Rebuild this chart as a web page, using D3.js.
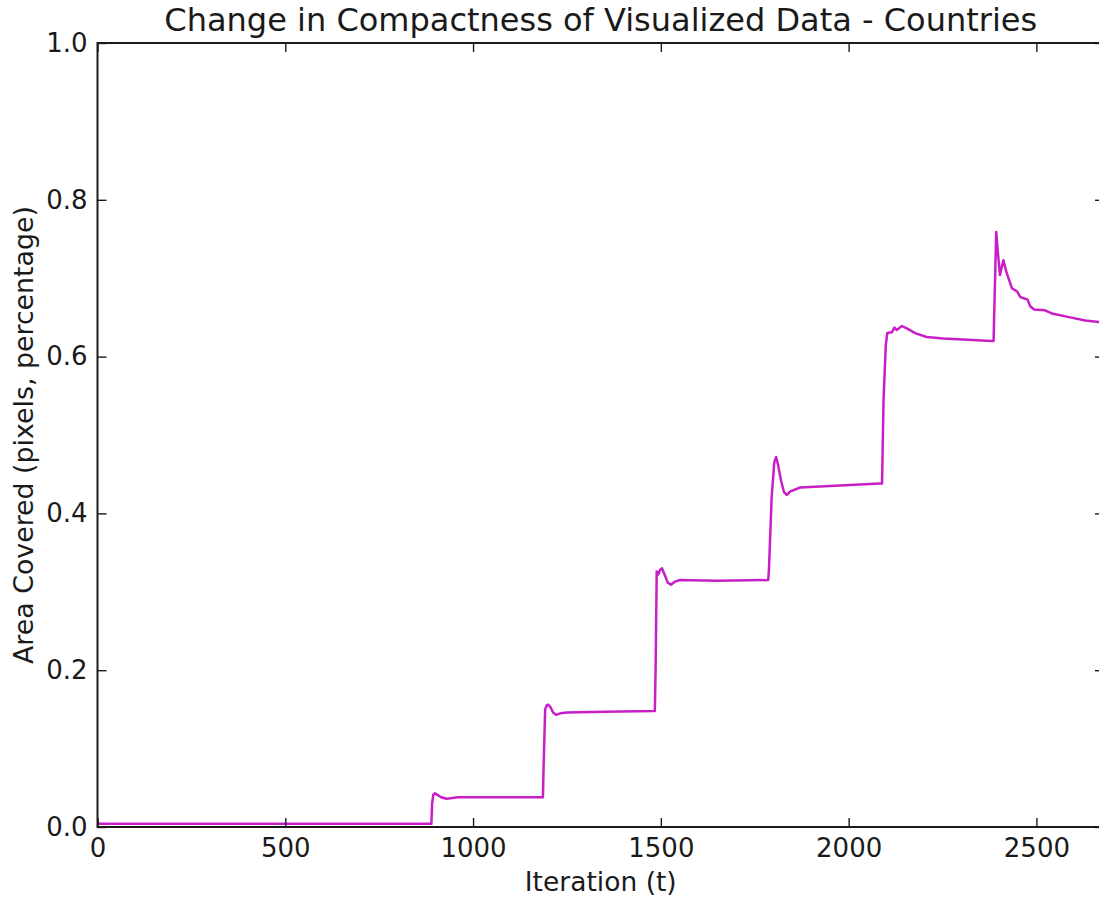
<!DOCTYPE html>
<html>
<head>
<meta charset="utf-8">
<script src="https://cdn.jsdelivr.net/npm/d3@7"></script>
<style>
  html, body { margin: 0; padding: 0; background: #fff; overflow: hidden; }
  svg { display: block; }
  text { font-family: "DejaVu Sans", sans-serif; fill: #1a1a1a; }
</style>
</head>
<body>
<svg id="chart" width="1099" height="897"></svg>
<script>
// Iteration number and fraction of area covered at that iteration
const iterations = [
  0, 6, 20, 400, 889, 891, 894, 898, 905, 915, 930, 960, 1100, 1186,
  1188, 1192, 1196, 1200, 1206, 1213, 1221, 1232, 1250, 1350, 1484,
  1486, 1489, 1493, 1498, 1503, 1510, 1518, 1527, 1538, 1551, 1650, 1786,
  1788, 1795, 1802, 1807, 1812, 1820, 1828, 1835, 1845, 1871, 1950, 2084,
  2089, 2093, 2099, 2103, 2115, 2122, 2128, 2142, 2155, 2177, 2208, 2252, 2381,
  2386, 2390, 2393, 2397, 2403, 2412, 2420, 2435, 2449, 2457, 2468, 2476,
  2484, 2494, 2523, 2541, 2590, 2630, 2667, 2680
];
const areaCovered = [
  0.006, 0.004, 0.004, 0.004, 0.004, 0.030, 0.041, 0.043, 0.041, 0.038, 0.036, 0.038, 0.038, 0.038,
  0.080, 0.150, 0.155, 0.156, 0.153, 0.146, 0.143, 0.145, 0.146, 0.147, 0.148,
  0.200, 0.326, 0.322, 0.328, 0.330, 0.322, 0.312, 0.309, 0.313, 0.315, 0.314, 0.315,
  0.330, 0.420, 0.465, 0.472, 0.462, 0.442, 0.427, 0.4235, 0.428, 0.433, 0.435, 0.438,
  0.438, 0.545, 0.615, 0.630, 0.631, 0.637, 0.634, 0.639, 0.636, 0.630, 0.625, 0.623, 0.620,
  0.620, 0.700, 0.759, 0.735, 0.704, 0.723, 0.708, 0.687, 0.683, 0.676, 0.674, 0.673,
  0.664, 0.660, 0.659, 0.655, 0.650, 0.646, 0.644, 0.643
];

const xTicks = [0, 500, 1000, 1500, 2000, 2500];
const yTicks = [0.0, 0.2, 0.4, 0.6, 0.8, 1.0];

const titleText = "Change in Compactness of Visualized Data - Countries";
const xLabel = "Iteration (t)";
const yLabel = "Area Covered (pixels, percentage)";

const svg = d3.select("#chart");
const plot = { left: 97.5, right: 1104, top: 43, bottom: 827 };

const x = d3.scaleLinear().domain([0, 2680]).range([plot.left, plot.right]);
const y = d3.scaleLinear().domain([0, 1]).range([plot.bottom, plot.top]);

const tickLen = 9;
const tickFont = 26;

// clip region for the data line
svg.append("defs").append("clipPath").attr("id", "plot-clip")
  .append("rect")
  .attr("x", plot.left).attr("y", plot.top)
  .attr("width", plot.right - plot.left).attr("height", plot.bottom - plot.top);

const points = iterations.map((t, i) => [t, areaCovered[i]]);
const line = d3.line().x(d => x(d[0])).y(d => y(d[1]));

svg.append("path")
  .datum(points)
  .attr("clip-path", "url(#plot-clip)")
  .attr("fill", "none")
  .attr("stroke", "#c81ec8")
  .attr("stroke-width", 2.5)
  .attr("stroke-linejoin", "round")
  .attr("d", line);

// axes: ticks point inward on all four sides
const fmtY = d3.format(".1f");
const bottomAxis = d3.axisBottom(x).tickValues(xTicks).tickFormat(d3.format("d"))
  .tickSizeInner(-tickLen).tickSizeOuter(0).tickPadding(12);
const topAxis = d3.axisTop(x).tickValues(xTicks).tickFormat("")
  .tickSizeInner(-tickLen).tickSizeOuter(0);
const leftAxis = d3.axisLeft(y).tickValues(yTicks).tickFormat(fmtY)
  .tickSizeInner(-tickLen).tickSizeOuter(0).tickPadding(10);
const rightAxis = d3.axisRight(y).tickValues(yTicks).tickFormat("")
  .tickSizeInner(-tickLen).tickSizeOuter(0);

function styleAxis(g) {
  g.select(".domain").remove();
  g.selectAll(".tick line").attr("stroke", "#1a1a1a").attr("stroke-width", 1.4);
  g.selectAll(".tick text")
    .attr("fill", "#1a1a1a")
    .style("font-family", "'DejaVu Sans', sans-serif")
    .style("font-size", tickFont + "px");
}

svg.append("g").attr("transform", `translate(0,${plot.bottom})`).call(bottomAxis).call(styleAxis);
svg.append("g").attr("transform", `translate(0,${plot.top})`).call(topAxis).call(styleAxis);
svg.append("g").attr("transform", `translate(${plot.left},0)`).call(leftAxis).call(styleAxis);
svg.append("g").attr("transform", `translate(${plot.right},0)`).call(rightAxis).call(styleAxis);

// frame
svg.append("rect")
  .attr("x", plot.left).attr("y", plot.top)
  .attr("width", plot.right - plot.left).attr("height", plot.bottom - plot.top)
  .attr("fill", "none").attr("stroke", "#1a1a1a").attr("stroke-width", 2);

// title and axis labels
svg.append("text")
  .attr("x", (plot.left + plot.right) / 2).attr("y", 31)
  .attr("text-anchor", "middle")
  .style("font-size", "32px")
  .text(titleText);

svg.append("text")
  .attr("x", (plot.left + plot.right) / 2).attr("y", 891)
  .attr("text-anchor", "middle")
  .style("font-size", "26.5px")
  .text(xLabel);

svg.append("text")
  .attr("transform", `translate(33,${(plot.top + plot.bottom) / 2}) rotate(-90)`)
  .attr("text-anchor", "middle")
  .style("font-size", "26.8px")
  .text(yLabel);
</script>
</body>
</html>
